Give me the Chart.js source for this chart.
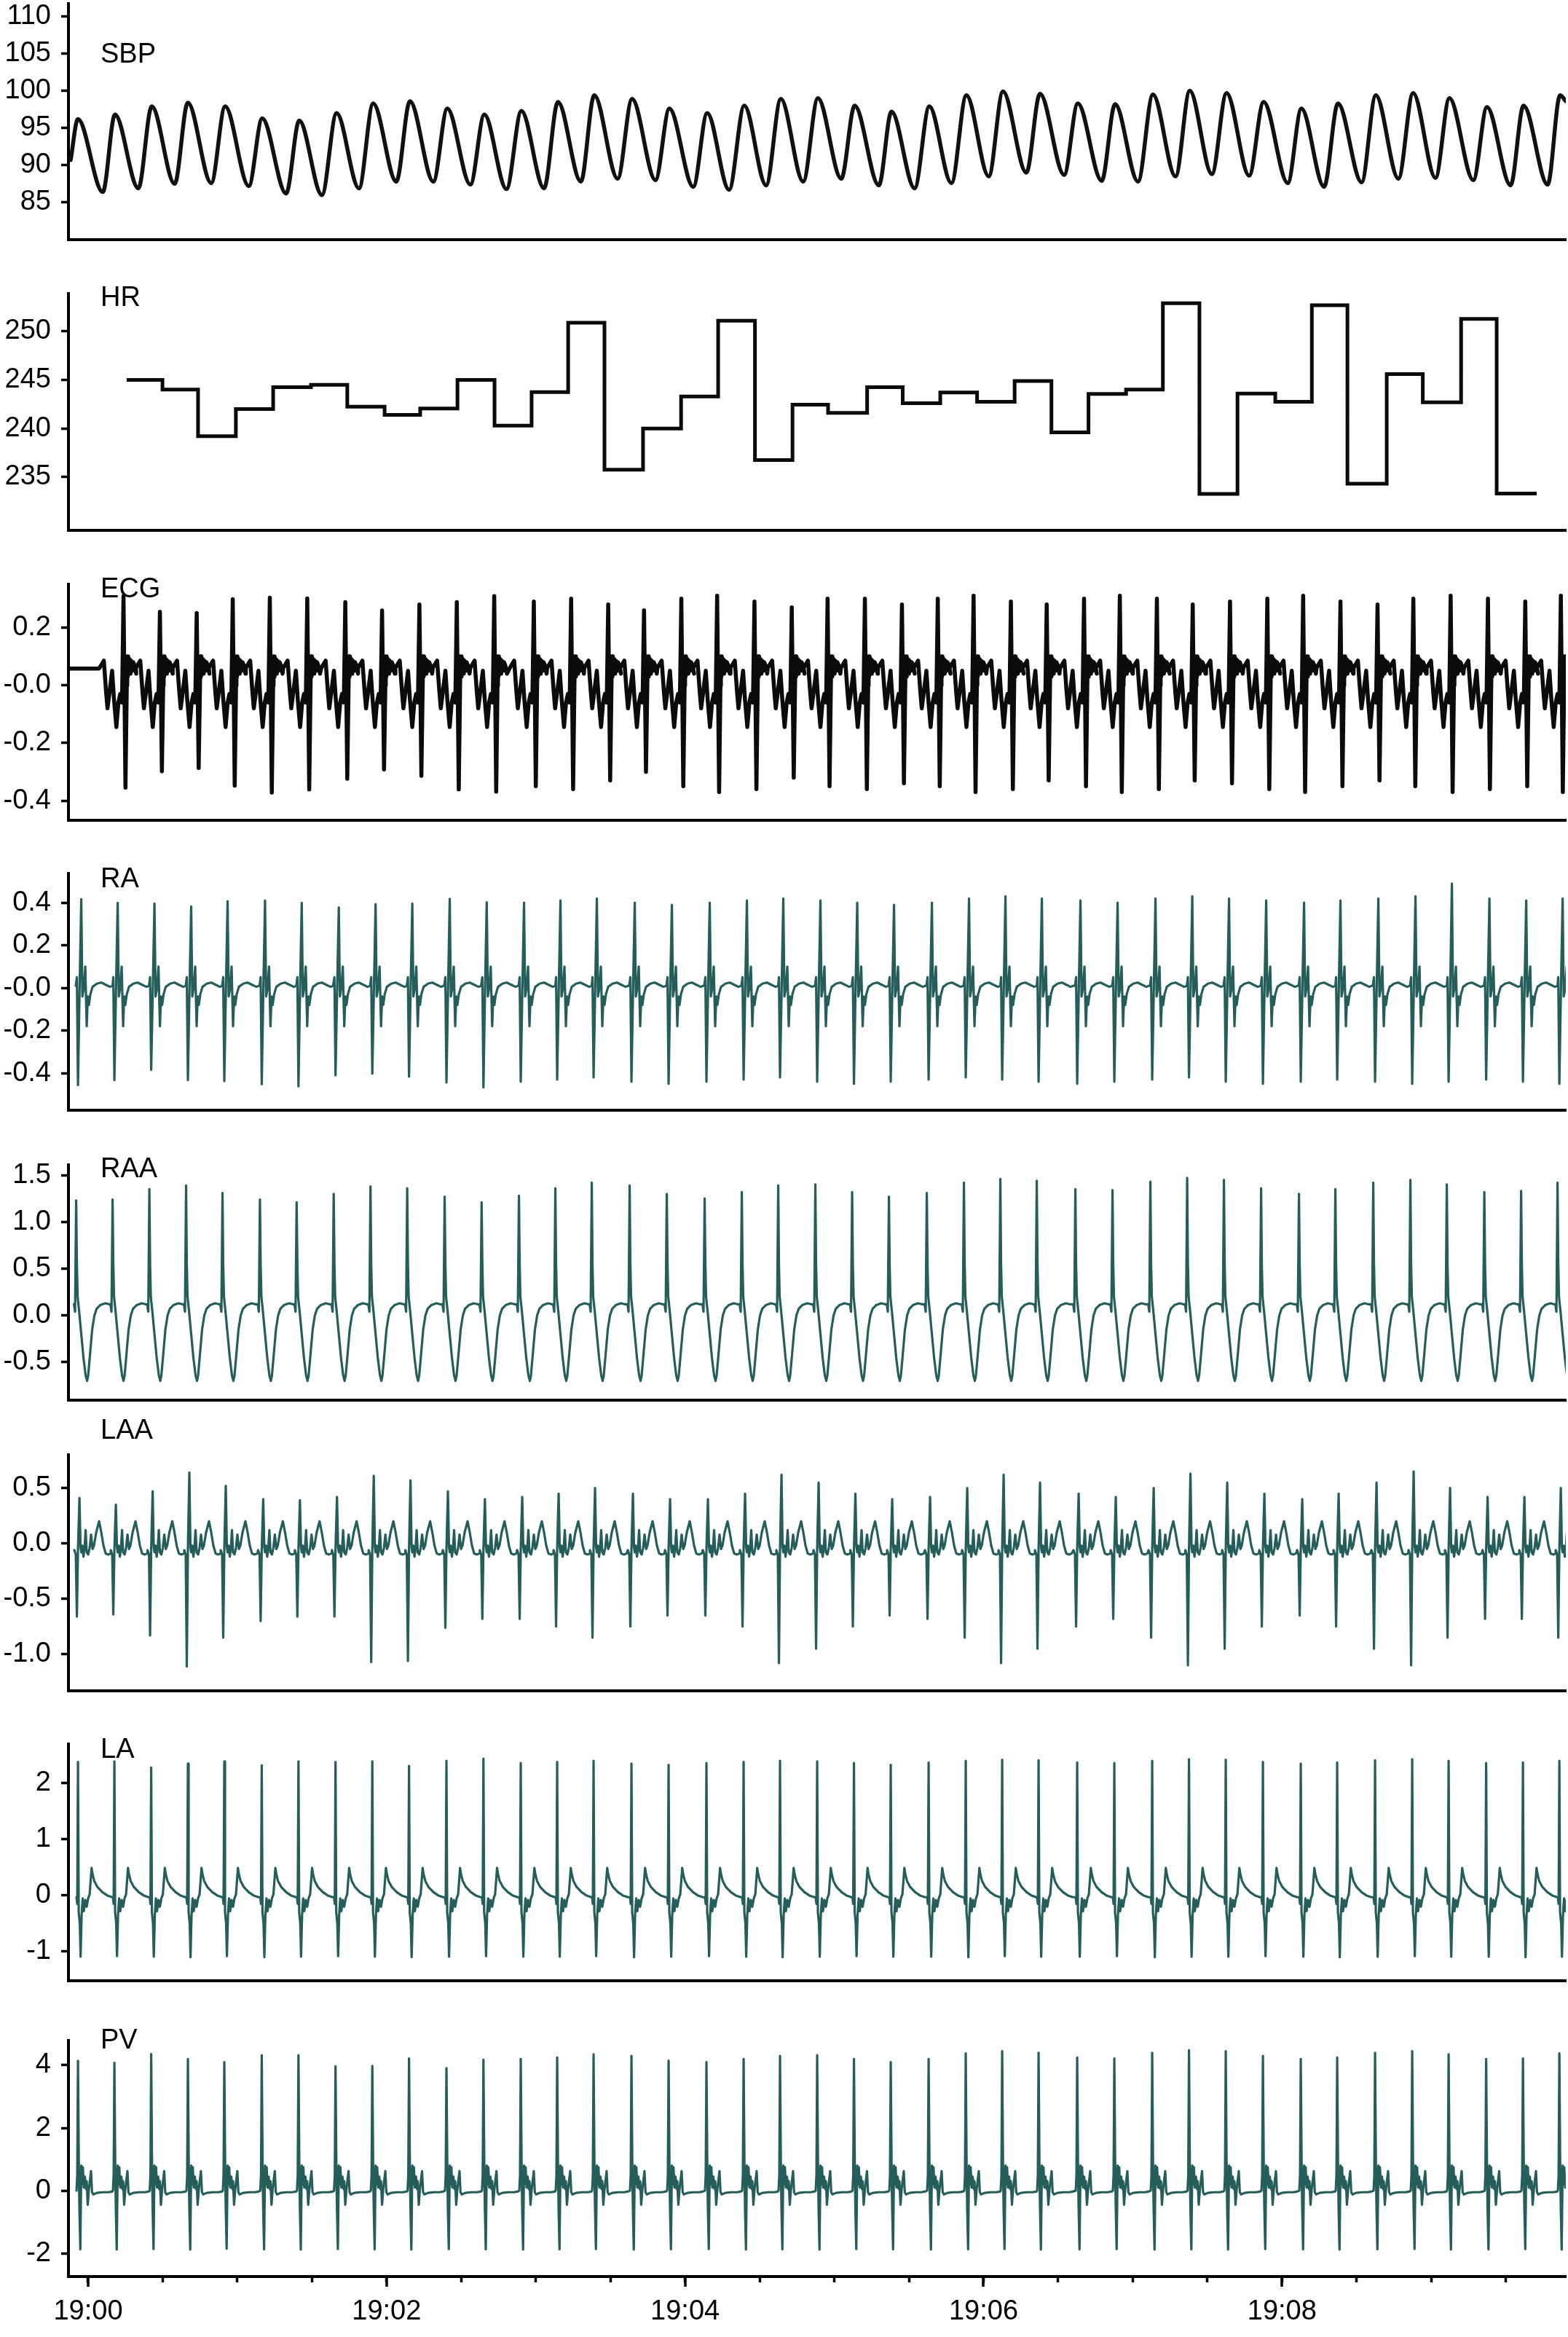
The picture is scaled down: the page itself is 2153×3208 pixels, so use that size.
<!DOCTYPE html>
<html>
<head>
<meta charset="utf-8">
<script src="https://cdn.jsdelivr.net/npm/chart.js@4/dist/chart.umd.min.js"></script>
<style>
  html, body { margin: 0; padding: 0; background: #ffffff; }
  body { width: 2153px; height: 3208px; position: relative; overflow: hidden; }
  canvas { position: absolute; left: 0; }
</style>
</head>
<body>
<script>
// ---- time axis (seconds after 19:00) ----
const X_MIN = -7.9, X_MAX = 594.1;
const timeTicks = [0, 30, 60, 90, 120, 150, 180, 210, 240, 270, 300, 330, 360, 390, 420, 450, 480, 510, 540, 570];
const timeLabels = { 0: '19:00', 120: '19:02', 240: '19:04', 360: '19:06', 480: '19:08' };

// ---- systolic blood pressure: alternating crests and troughs ----
const sbpTimes = [-7.0, -4.1, 5.9, 10.8, 20.2, 25.6, 34.8, 40.1, 49.5, 55.1, 64.6, 70.0, 79.6, 84.9, 94.0, 99.9,
  108.9, 114.6, 123.9, 129.4, 138.8, 144.4, 153.7, 159.3, 168.2, 174.2, 183.3, 188.9, 198.1, 203.5, 212.9, 218.7,
  228.1, 233.7, 243.3, 248.9, 257.7, 263.8, 272.6, 278.5, 287.5, 293.4, 302.8, 308.2, 317.9, 323.0, 332.3, 338.2,
  347.1, 353.1, 362.1, 367.8, 377.2, 382.7, 392.4, 397.9, 407.5, 412.9, 422.1, 428.1, 437.2, 442.9, 451.8, 457.7,
  466.8, 472.6, 482.3, 487.8, 496.9, 502.5, 512.0, 517.7, 526.8, 532.7, 541.7, 547.3, 556.9, 562.4, 571.9, 577.1,
  586.8, 591.8, 594.1];
const sbpValues = [90.7, 96.2, 86.4, 96.8, 86.9, 97.9, 87.5, 98.4, 87.6, 97.9, 87.2, 96.3, 86.2, 96.0, 86.0, 97.0,
  86.9, 98.3, 87.8, 98.6, 87.8, 97.6, 87.4, 96.8, 86.8, 97.3, 86.9, 98.5, 87.8, 99.4, 88.2, 98.9,
  88.0, 97.6, 87.1, 97.0, 86.7, 98.0, 87.3, 98.9, 87.8, 99.0, 88.2, 98.0, 87.3, 97.2, 86.9, 97.9,
  87.6, 99.4, 88.5, 99.9, 89.0, 99.6, 88.7, 98.3, 87.9, 98.2, 87.8, 99.5, 88.5, 100.0, 88.8, 99.7,
  88.6, 98.5, 87.6, 97.6, 87.1, 98.3, 87.7, 99.4, 88.2, 99.7, 88.3, 99.0, 88.0, 97.8, 87.3, 98.0,
  87.4, 99.4, 98.6];

// ---- heart rate: value held from each update time to the next ----
const hrTimes = [15.5, 29.9, 44.2, 59.4, 74.4, 89.6, 104.2, 119.2, 133.5, 148.5, 163.4, 178.3, 193.0, 207.6,
  223.1, 238.4, 253.3, 268.1, 283.2, 297.5, 313.2, 327.5, 342.6, 357.4, 372.5, 387.3, 402.2, 417.3, 432.1,
  446.8, 462.1, 477.3, 492.0, 506.3, 522.1, 536.6, 552.0, 566.3, 582.4];
const hrValues = [245.0, 244.0, 239.2, 242.0, 244.25, 244.5, 242.25, 241.4, 242.05, 245.0, 240.3, 243.75, 250.9,
  235.75, 240.0, 243.3, 251.1, 236.75, 242.45, 241.6, 244.25, 242.6, 243.7, 242.75, 244.9, 239.6, 243.55, 244.0,
  252.9, 233.25, 243.6, 242.75, 252.7, 234.3, 245.6, 242.7, 251.3, 233.3];

// ---- atrial activation times (s) shared by the intracardiac leads ----
const beatTimes = [-4.07, 10.57, 25.36, 40.12, 54.76, 69.81, 84.57, 99.47, 114.26, 129.02, 144.07, 158.94,
  173.94, 188.58, 203.22, 218.45, 233.38, 248.60, 263.54, 278.18, 293.11, 307.90, 322.69, 337.92, 352.85,
  367.49, 382.13, 397.65, 412.58, 427.81, 442.60, 457.38, 472.32, 487.54, 502.18, 517.41, 532.34, 546.98,
  562.07, 576.86, 591.50];

// ---- surface ECG ----
const ecgBeatTimes = [14.23, 28.87, 43.66, 58.15, 73.06, 88.11, 103.4, 118.18, 133.2, 148.23, 163.28,
  179.2, 194.2, 209.1, 223.5, 238.5, 252.9, 267.9, 282.9, 297.3, 312.3, 327.2, 341.6, 356.0, 371.0, 385.4,
  400.4, 414.8, 429.7, 444.1, 459.1, 474.1, 488.5, 503.5, 518.4, 532.8, 547.8, 562.8, 577.8, 592.1];
const ecgPeaks = [0.309, 0.255, 0.250, 0.298, 0.303, 0.301, 0.288, 0.259, 0.280, 0.288, 0.309,
  0.29, 0.30, 0.28, 0.26, 0.30, 0.31, 0.29, 0.27, 0.30, 0.30, 0.28, 0.30, 0.31, 0.29, 0.28, 0.30, 0.31,
  0.30, 0.28, 0.29, 0.30, 0.31, 0.29, 0.28, 0.30, 0.31, 0.30, 0.29, 0.31];
const ecgTroughs = [-0.355, -0.298, -0.287, -0.348, -0.372, -0.361, -0.324, -0.292, -0.314, -0.361, -0.369,
  -0.35, -0.36, -0.33, -0.30, -0.35, -0.37, -0.36, -0.32, -0.35, -0.36, -0.34, -0.35, -0.37, -0.36, -0.33,
  -0.35, -0.37, -0.36, -0.33, -0.34, -0.36, -0.37, -0.35, -0.33, -0.35, -0.37, -0.36, -0.35, -0.37];
const ecgLead = [[-7.03, 0.058], [4.39, 0.058]];
const ecgShapeT = [-9.66, -7.9, -7.03, -6.44, -5.56, -4.57, -3.81, -2.87, -2.05, -1.32, -0.59, 0, 0.79, 1.32,
  1.5, 1.7, 1.9, 2.2, 2.5, 2.8, 3.1, 3.5, 3.9, 4.39, 5.12];
const ecgShapeV = [0.06, 0.085, -0.02, -0.08, -0.02, 0.05, -0.05, -0.145, -0.06, -0.03, -0.06, 'P', 'T', 0.0,
  0.10, 0.03, 0.10, 0.05, 0.09, 0.04, 0.085, 0.05, 0.08, 0.07, 0.04];

// ---- RA ----
const raPeaks = [0.416, 0.399, 0.396, 0.382, 0.407, 0.410, 0.399, 0.378, 0.393, 0.396, 0.418, 0.402,
  0.40, 0.41, 0.42, 0.40, 0.39, 0.40, 0.41, 0.42, 0.41, 0.40, 0.39, 0.40, 0.42, 0.43, 0.42, 0.41, 0.40,
  0.42, 0.43, 0.42, 0.41, 0.40, 0.41, 0.42, 0.43, 0.49, 0.42, 0.41, 0.42];
const raTroughs = [-0.456, -0.433, -0.384, -0.433, -0.437, -0.452, -0.462, -0.410, -0.402, -0.416, -0.444, -0.467,
  -0.44, -0.43, -0.42, -0.44, -0.45, -0.44, -0.43, -0.42, -0.44, -0.45, -0.44, -0.43, -0.42, -0.43, -0.44,
  -0.45, -0.44, -0.43, -0.42, -0.44, -0.45, -0.44, -0.43, -0.44, -0.45, -0.44, -0.43, -0.44, -0.45];
const raShapeT = [-0.88, -0.44, 0, 0.59, 1.32, 1.76, 2.34, 2.93, 3.51, 3.95, 4.39, 4.98, 5.86, 7.61, 9.37, 11.13, 12.88, 13.91];
const raShapeV = [0.01, 0.05, 'T', -0.04, 'P', -0.04, 0.0, 0.10, -0.18, -0.04, -0.08, -0.03, 0.005, 0.02, 0.025, 0.015, 0.005, 0.01];

// ---- RAA ----
const raaPeaks = [1.23, 1.24, 1.35, 1.39, 1.31, 1.24, 1.21, 1.30, 1.38, 1.36, 1.27, 1.21,
  1.28, 1.36, 1.42, 1.39, 1.30, 1.25, 1.32, 1.39, 1.40, 1.32, 1.27, 1.31, 1.42, 1.46, 1.44, 1.35, 1.34,
  1.43, 1.47, 1.45, 1.36, 1.30, 1.35, 1.42, 1.45, 1.40, 1.32, 1.33, 1.42];
const raaShapeT = [-1.61, -1.17, -0.73, -0.44, -0.15, 0.44, 1.32, 2.20, 3.07, 3.66, 4.10, 4.83, 5.71, 6.59, 7.47, 8.93, 10.98, 12.44];
const raaShapeV = [0.12, 0.04, 'P', 0.55, 0.2, 0.05, -0.2, -0.45, -0.64, -0.70, -0.64, -0.42, -0.15, 0.0, 0.07, 0.11, 0.13, 0.12];

// ---- LAA ----
const laaPeaks = [0.41, 0.35, 0.47, 0.64, 0.52, 0.40, 0.39, 0.42, 0.61, 0.57, 0.47, 0.40,
  0.42, 0.45, 0.50, 0.45, 0.40, 0.40, 0.45, 0.62, 0.55, 0.45, 0.40, 0.42, 0.50, 0.62, 0.55, 0.45, 0.42,
  0.50, 0.63, 0.55, 0.45, 0.40, 0.45, 0.55, 0.65, 0.50, 0.42, 0.42, 0.50];
const laaTroughs = [-0.66, -0.64, -0.83, -1.11, -0.85, -0.70, -0.66, -0.66, -1.07, -1.06, -0.76, -0.68,
  -0.68, -0.75, -0.85, -0.75, -0.65, -0.65, -0.75, -1.08, -0.95, -0.75, -0.65, -0.68, -0.85, -1.08, -0.95,
  -0.75, -0.68, -0.85, -1.10, -0.95, -0.75, -0.65, -0.75, -0.95, -1.10, -0.85, -0.68, -0.68, -0.85];
const laaShapeT = [-1.46, -0.88, -0.44, 0, 0.59, 1.02, 1.32, 1.76, 2.20, 2.64, 3.07, 3.51, 4.10, 4.69, 5.27,
  5.86, 6.44, 7.32, 8.49, 9.37, 10.25, 11.13, 12.30, 13.32];
const laaShapeV = [-0.06, -0.10, 'T', -0.05, 'P', -0.03, -0.08, -0.02, -0.12, -0.04, 0.12, -0.08, -0.10, -0.04,
  0.08, -0.05, -0.02, 0.10, 0.20, 0.10, -0.02, -0.09, -0.10, -0.09];

// ---- LA ----
const laPeaks = [2.38, 2.39, 2.28, 2.35, 2.39, 2.32, 2.39, 2.38, 2.39, 2.31, 2.40, 2.44,
  2.36, 2.38, 2.40, 2.35, 2.33, 2.36, 2.38, 2.40, 2.39, 2.36, 2.33, 2.37, 2.40, 2.42, 2.41, 2.37, 2.36,
  2.40, 2.43, 2.42, 2.38, 2.35, 2.37, 2.41, 2.43, 2.40, 2.36, 2.37, 2.40];
const laTroughs = [-1.09, -1.08, -1.09, -1.10, -1.08, -1.10, -1.09, -1.08, -1.09, -1.10, -1.09, -1.08,
  -1.09, -1.09, -1.08, -1.10, -1.09, -1.08, -1.09, -1.10, -1.09, -1.08, -1.09, -1.09, -1.10, -1.08, -1.09,
  -1.09, -1.08, -1.10, -1.09, -1.09, -1.08, -1.09, -1.10, -1.09, -1.08, -1.09, -1.09, -1.10, -1.09];
const laShapeT = [-0.59, -0.29, 0, 0.29, 0.73, 1.05, 1.46, 1.90, 2.34, 2.93, 3.51, 4.10, 4.69, 5.48, 5.86, 6.53, 7.85, 9.81, 11.77, 13.73];
const laShapeV = [-0.03, -0.15, 'P', -0.3, -0.5, 'T', -0.35, -0.05, -0.28, -0.08, -0.2, -0.05, 0.02, 0.49, 0.38, 0.26, 0.15, 0.06, 0.0, -0.03];

// ---- PV ----
const pvPeaks = [4.14, 4.08, 4.36, 4.20, 4.10, 4.32, 4.32, 3.97, 3.98, 4.22, 3.91, 4.18,
  4.20, 4.25, 4.35, 4.30, 4.15, 4.10, 4.20, 4.30, 4.32, 4.20, 4.10, 4.20, 4.38, 4.45, 4.40, 4.25, 4.22,
  4.40, 4.48, 4.45, 4.30, 4.20, 4.25, 4.40, 4.45, 4.35, 4.20, 4.22, 4.38];
const pvTroughs = [-1.87, -1.88, -1.86, -1.88, -1.85, -1.87, -1.88, -1.86, -1.87, -1.88, -1.86, -1.87,
  -1.88, -1.87, -1.86, -1.88, -1.87, -1.86, -1.88, -1.87, -1.88, -1.86, -1.87, -1.88, -1.87, -1.86, -1.88,
  -1.87, -1.86, -1.88, -1.87, -1.88, -1.86, -1.87, -1.88, -1.87, -1.86, -1.88, -1.87, -1.86, -1.88];
const pvShapeT = [-0.59, -0.29, 0, 0.35, 0.59, 0.94, 1.32, 1.61, 1.96, 2.34, 2.78, 3.22, 3.51, 3.92, 4.39,
  5.24, 5.65, 6.15, 7.61, 9.96, 12.30, 13.76];
const pvShapeV = [0.0, 0.5, 'P', 0.7, -0.6, 'T', 0.8, 0.2, 0.75, 0.1, 0.45, 0.05, 0.3, -0.45, 0.05, 0.62,
  -0.05, -0.12, -0.07, -0.05, -0.05, -0.03];

// ---------------------------------------------------------------------------
const W = 2153;
const FONT = '"Liberation Sans", Arial, Helvetica, sans-serif';
const INK = '#000000';
const TEAL = '#245d5a';

// join the per-beat shape with each beat's own crest / trough values
function beatTrace(times, shapeT, shapeV, peaks, troughs, lead) {
  const pts = (lead || []).map(p => ({ x: p[0], y: p[1] }));
  times.forEach((b, i) => {
    shapeT.forEach((dt, j) => {
      const v = shapeV[j];
      const y = v === 'P' ? peaks[i] : v === 'T' ? troughs[i] : v;
      pts.push({ x: b + dt, y: y });
    });
  });
  return pts;
}
function pairs(xs, ys) {
  return xs.map((x, i) => ({ x: x, y: ys[Math.min(i, ys.length - 1)] }));
}
function lineSet(points, color, width, extra) {
  return Object.assign({
    data: points, borderColor: color, borderWidth: width, pointRadius: 0,
    fill: false, tension: 0, borderJoinStyle: 'round', borderCapStyle: 'round'
  }, extra || {});
}

// panel caption text
const panelLabel = {
  id: 'panelLabel',
  afterDraw(chart, args, o) {
    const ctx = chart.ctx;
    ctx.save();
    ctx.fillStyle = INK;
    ctx.font = '38px ' + FONT;
    ctx.textAlign = 'left';
    ctx.textBaseline = 'alphabetic';
    ctx.fillText(o.text, o.x, o.y);
    ctx.restore();
  }
};
// longer tick marks at the labelled minutes
const majorTicks = {
  id: 'majorTicks',
  afterDraw(chart, args, o) {
    if (!o.enabled) return;
    const s = chart.scales.x;
    const ctx = chart.ctx;
    ctx.save();
    ctx.strokeStyle = INK;
    ctx.lineWidth = 3.5;
    timeTicks.forEach(v => {
      if (timeLabels[v] === undefined) return;
      const px = Math.round(s.getPixelForValue(v));
      ctx.beginPath();
      ctx.moveTo(px, s.top);
      ctx.lineTo(px, s.top + 14);
      ctx.stroke();
    });
    ctx.restore();
  }
};

function makePanel(cfg) {
  const padTop = cfg.top - cfg.canvasTop;
  const xh = cfg.timeAxis ? 3208 - cfg.bottom : 4;
  const h = padTop + (cfg.bottom - cfg.top) + xh;
  const cv = document.createElement('canvas');
  cv.width = W; cv.height = h;
  cv.style.width = W + 'px'; cv.style.height = h + 'px';
  cv.style.top = cfg.canvasTop + 'px';
  document.body.appendChild(cv);
  const tickFont = { family: FONT, size: 38 };
  new Chart(cv.getContext('2d'), {
    type: 'line',
    data: { datasets: cfg.datasets },
    options: {
      responsive: false, animation: false, devicePixelRatio: 1, events: [],
      layout: { padding: { top: padTop, right: W - 2150, bottom: 0, left: 0 } },
      plugins: {
        legend: { display: false }, tooltip: { enabled: false },
        panelLabel: { text: cfg.label, x: 138, y: cfg.labelY - cfg.canvasTop },
        majorTicks: { enabled: !!cfg.timeAxis }
      },
      scales: {
        x: {
          type: 'linear', min: X_MIN, max: X_MAX,
          border: { display: true, color: INK, width: 4 },
          grid: { drawOnChartArea: false, drawTicks: !!cfg.timeAxis, tickLength: 8, tickWidth: 3.5, tickColor: INK },
          ticks: {
            display: !!cfg.timeAxis, autoSkip: false, maxRotation: 0, padding: 18, color: INK, font: tickFont,
            callback: v => (timeLabels[v] !== undefined ? timeLabels[v] : '')
          },
          afterBuildTicks: s => { s.ticks = timeTicks.map(v => ({ value: v })); },
          afterFit: s => { s.height = xh; s.paddingLeft = 0; s.paddingRight = 0; }
        },
        y: {
          type: 'linear', min: cfg.yMin, max: cfg.yMax,
          border: { display: true, color: INK, width: 4 },
          grid: { drawOnChartArea: false, drawTicks: true, tickLength: 10, tickWidth: 3.5, tickColor: INK },
          ticks: { autoSkip: false, padding: 14, color: INK, font: tickFont, callback: cfg.fmt },
          afterBuildTicks: s => { s.ticks = cfg.yTicks.map(v => ({ value: v })); },
          afterFit: s => { s.width = 94; s.paddingTop = 0; s.paddingBottom = 0; }
        }
      }
    },
    plugins: [panelLabel, majorTicks]
  });
}

const fmtInt = v => String(v);
const fmtOne = v => (Math.abs(v) < 1e-9 ? '0.0' : v.toFixed(1));
const fmtSigned = v => (Math.abs(v) < 1e-9 ? '-0.0' : v.toFixed(1));

makePanel({
  label: 'SBP', labelY: 86, canvasTop: 0, top: 5, bottom: 329, yMin: 80, yMax: 111.7,
  yTicks: [85, 90, 95, 100, 105, 110], fmt: fmtInt,
  datasets: [lineSet(pairs(sbpTimes, sbpValues), '#111111', 5.5, { cubicInterpolationMode: 'monotone' })]
});
makePanel({
  label: 'HR', labelY: 420, canvasTop: 340, top: 403, bottom: 728, yMin: 229.5, yMax: 253.9,
  yTicks: [235, 240, 245, 250], fmt: fmtInt,
  datasets: [lineSet(pairs(hrTimes, hrValues), '#0a0a0a', 5, { stepped: true, borderJoinStyle: 'miter', borderCapStyle: 'butt' })]
});
makePanel({
  label: 'ECG', labelY: 820, canvasTop: 739, top: 802, bottom: 1126, yMin: -0.468, yMax: 0.35,
  yTicks: [-0.4, -0.2, 0, 0.2], fmt: fmtSigned,
  datasets: [lineSet(beatTrace(ecgBeatTimes, ecgShapeT, ecgShapeV, ecgPeaks, ecgTroughs, ecgLead), '#0b0b0b', 5.5)]
});
makePanel({
  label: 'RA', labelY: 1218, canvasTop: 1136, top: 1199, bottom: 1524, yMin: -0.574, yMax: 0.537,
  yTicks: [-0.4, -0.2, 0, 0.2, 0.4], fmt: fmtSigned,
  datasets: [lineSet(beatTrace(beatTimes, raShapeT, raShapeV, raPeaks, raTroughs), TEAL, 3.2)]
});
makePanel({
  label: 'RAA', labelY: 1616, canvasTop: 1536, top: 1599, bottom: 1922, yMin: -0.906, yMax: 1.61,
  yTicks: [-0.5, 0, 0.5, 1.0, 1.5], fmt: fmtOne,
  datasets: [lineSet(beatTrace(beatTimes, raaShapeT, raaShapeV, raaPeaks, []), TEAL, 3.2)]
});
makePanel({
  label: 'LAA', labelY: 1975, canvasTop: 1934, top: 1997, bottom: 2321, yMin: -1.33, yMax: 0.80,
  yTicks: [-1.0, -0.5, 0, 0.5], fmt: fmtOne,
  datasets: [lineSet(beatTrace(beatTimes, laaShapeT, laaShapeV, laaPeaks, laaTroughs), TEAL, 3.2)]
});
makePanel({
  label: 'LA', labelY: 2413, canvasTop: 2331, top: 2394, bottom: 2719, yMin: -1.52, yMax: 2.70,
  yTicks: [-1, 0, 1, 2], fmt: fmtInt,
  datasets: [lineSet(beatTrace(beatTimes, laShapeT, laShapeV, laPeaks, laTroughs), TEAL, 3.2)]
});
makePanel({
  label: 'PV', labelY: 2812, canvasTop: 2738, top: 2801, bottom: 3125, yMin: -2.74, yMax: 4.79,
  yTicks: [-2, 0, 2, 4], fmt: fmtInt, timeAxis: true,
  datasets: [lineSet(beatTrace(beatTimes, pvShapeT, pvShapeV, pvPeaks, pvTroughs), TEAL, 3.2)]
});
</script>
</body>
</html>
